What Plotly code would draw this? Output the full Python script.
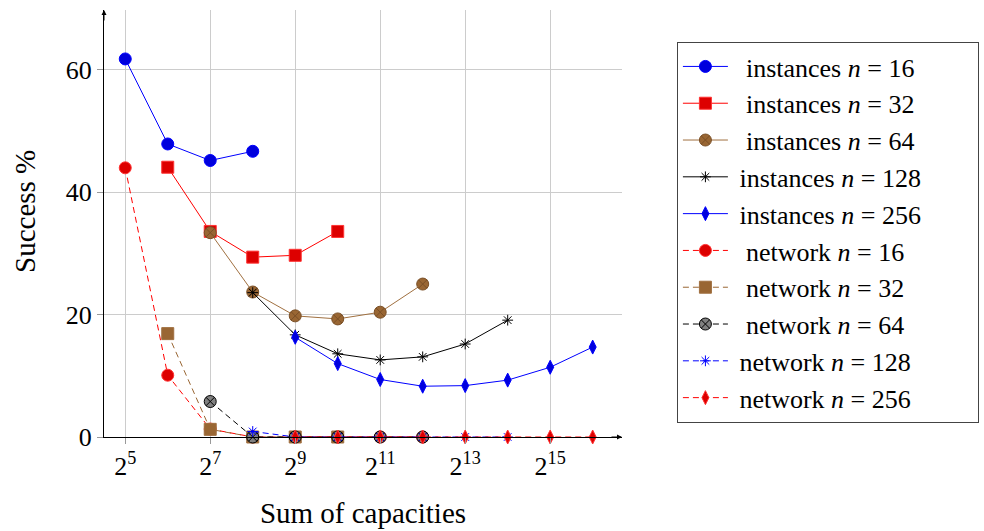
import plotly.graph_objects as go

# exponents of 2 (x = log2 of sum of capacities)
inst16_x = [5, 6, 7, 8]
inst16_y = [61.8, 47.9, 45.2, 46.7]
inst32_x = [6, 7, 8, 9, 10]
inst32_y = [44.1, 33.6, 29.4, 29.7, 33.6]
inst64_x = [7, 8, 9, 10, 11, 12]
inst64_y = [33.4, 23.7, 19.8, 19.3, 20.4, 25.0]
inst128_x = [8, 9, 10, 11, 12, 13, 14]
inst128_y = [23.6, 16.7, 13.6, 12.6, 13.1, 15.2, 19.1]
inst256_x = [9, 10, 11, 12, 13, 14, 15, 16]
inst256_y = [16.3, 12.0, 9.4, 8.3, 8.4, 9.3, 11.4, 14.7]

net16_x = [5, 6, 7, 8, 9, 10, 11, 12]
net16_y = [44.0, 10.1, 1.3, 0, 0, 0, 0, 0]
net32_x = [6, 7, 8, 9, 10]
net32_y = [16.9, 1.25, 0, 0, 0]
net64_x = [7, 8, 9, 10, 11, 12]
net64_y = [5.8, 0, 0, 0, 0, 0]
net128_x = [8, 9, 10, 11, 12, 13, 14]
net128_y = [0.9, 0, 0, 0, 0, 0, 0]
net256_x = [9, 10, 11, 12, 13, 14, 15, 16]
net256_y = [0, 0, 0, 0, 0, 0, 0, 0]

xtick_vals = [5, 7, 9, 11, 13, 15]
xtick_text = ["2<sup>%d</sup>" % v for v in xtick_vals]
ytick_vals = [0, 20, 40, 60]

FONT = "'Liberation Serif', 'Times New Roman', serif"
NB = "\u00a0"


def label(kind, n):
    lead = NB * (2 if n < 100 else 1)
    return "%s%s <i>n</i> = %d%s" % (lead, kind, n, NB * 8)


series = [
    (label("instances", 16), inst16_x, inst16_y, "#0000ff", "solid", "circle", "#0000dd", "#0000ff", 12),
    (label("instances", 32), inst32_x, inst32_y, "#ff0000", "solid", "square", "#dd0000", "#ff3333", 12),
    (label("instances", 64), inst64_x, inst64_y, "#a07040", "solid", "circle-x", "#996633", "#7a4f26", 12),
    (label("instances", 128), inst128_x, inst128_y, "#000000", "solid", "asterisk", "#000000", "#000000", 9),
    (label("instances", 256), inst256_x, inst256_y, "#0000ff", "solid", "diamond-tall", "#0000dd", "#0000ff", 10),
    (label("network", 16), net16_x, net16_y, "#ff0000", "dash", "circle", "#dd0000", "#ff3333", 12),
    (label("network", 32), net32_x, net32_y, "#996633", "dash", "square", "#996633", "#a07040", 12),
    (label("network", 64), net64_x, net64_y, "#000000", "dash", "circle-x", "#808080", "#000000", 12),
    (label("network", 128), net128_x, net128_y, "#0000ff", "dash", "asterisk", "#0000ff", "#0000ff", 9),
    (label("network", 256), net256_x, net256_y, "#ff0000", "dash", "diamond-tall", "#dd0000", "#ff3333", 10),
]

fig = go.Figure()
for name, xs, ys, lc, dash, sym, fill, mline, size in series:
    fig.add_trace(go.Scatter(
        x=xs, y=ys, name=name, mode="lines+markers", cliponaxis=False,
        line=dict(color=lc, width=1, dash=("6px,4px" if dash == "dash" else "solid")),
        marker=dict(symbol=sym, size=size, color=fill, line=dict(color=mline, width=1)),
    ))

fig.update_layout(
    width=984, height=531,
    margin=dict(l=104, r=362, t=10, b=94, autoexpand=False),
    paper_bgcolor="white", plot_bgcolor="white",
    font=dict(family=FONT, size=25, color="black"),
    showlegend=True,
    legend=dict(x=1.106, y=0.925, xanchor="left", yanchor="top",
                bordercolor="#444444", borderwidth=1, bgcolor="white",
                font=dict(family=FONT, size=26, color="black"), itemwidth=45,
                tracegroupgap=0),
    xaxis=dict(range=[4.5, 16.69], tickvals=xtick_vals, ticktext=xtick_text,
               showgrid=True, gridcolor="#cccccc", gridwidth=1, zeroline=False,
               showline=True, linecolor="black", linewidth=1, automargin=False,
               ticks="outside", ticklen=6, tickcolor="#999999",
               title=dict(text="Sum of capacities", standoff=22,
                          font=dict(family=FONT, size=29)),
               tickfont=dict(family=FONT, size=26)),
    yaxis=dict(range=[0, 69.8], tickvals=ytick_vals,
               showgrid=True, gridcolor="#cccccc", gridwidth=1, zeroline=False,
               showline=True, linecolor="black", linewidth=1, automargin=False,
               ticks="outside", ticklen=6, tickcolor="#999999",
               tickfont=dict(family=FONT, size=26)),
)

# y-axis title (placed as in the reference, slightly above the axis centre)
fig.add_annotation(text="Success %", xref="paper", yref="paper", x=-0.1525, y=0.527,
                   textangle=-90, showarrow=False, font=dict(family=FONT, size=29),
                   xanchor="center", yanchor="middle")

# axis arrows
fig.add_annotation(x=16.69, y=0, xref="x", yref="y", ax=-12, ay=0, axref="pixel", ayref="pixel",
                   showarrow=True, arrowhead=2, arrowsize=1, arrowwidth=1, arrowcolor="black", text="")
fig.add_annotation(x=4.5, y=69.8, xref="x", yref="y", ax=0, ay=12, axref="pixel", ayref="pixel",
                   showarrow=True, arrowhead=2, arrowsize=1, arrowwidth=1, arrowcolor="black", text="")

fig.write_html("out.html")
